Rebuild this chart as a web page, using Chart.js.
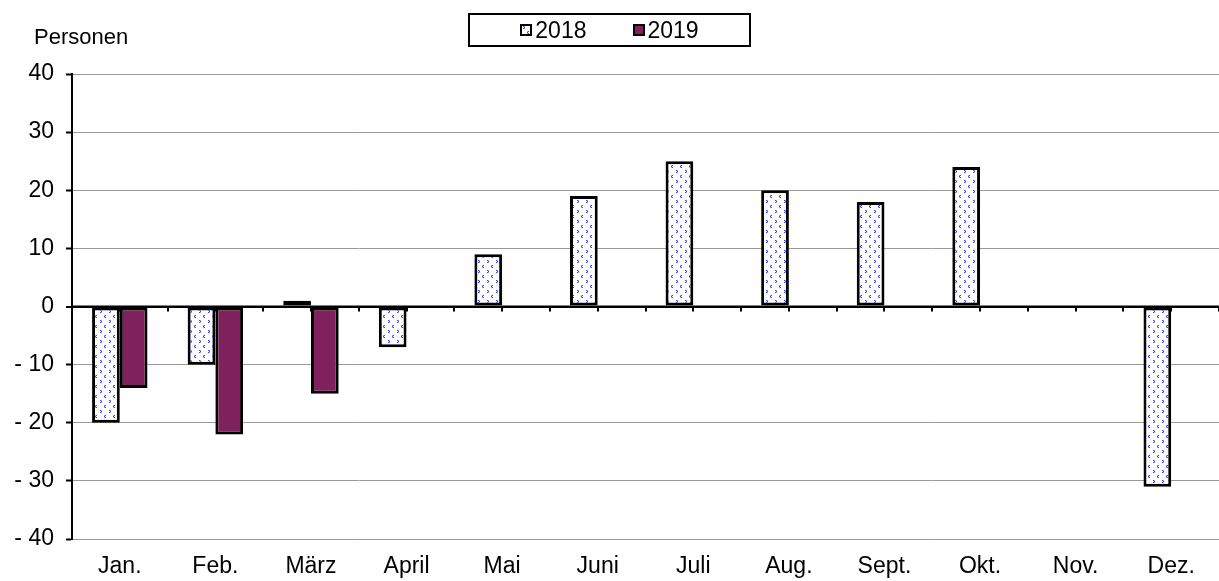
<!DOCTYPE html>
<html lang="de">
<head>
<meta charset="utf-8">
<title>Personen 2018 / 2019</title>
<script src="https://cdn.jsdelivr.net/npm/chart.js@4.4.1/dist/chart.umd.min.js"></script>
<style>
  body { margin: 0; background: #fff; }
  #wrap { position: relative; width: 1219px; height: 581px; font-family: "Liberation Sans", Arial, sans-serif; }
  #unit { position: absolute; left: 34px; top: 24px; font-size: 22px; color: #000; }
  #legend {
    position: absolute; left: 468px; top: 13px; width: 279px; height: 30px;
    border: 2px solid #000; display: flex; align-items: center; justify-content: center;
    font-size: 23px; color: #000;
  }
  .item { display: flex; align-items: center; }
  .item + .item { margin-left: 46px; }
  .swatch { width: 8px; height: 8px; border: 2px solid #000; margin-right: 3px; }
</style>
</head>
<body>
<div id="wrap">
  <canvas id="chart" width="1219" height="581"></canvas>
  <div id="unit">Personen</div>
  <div id="legend"></div>
</div>
<script>
const months = ["Jan.", "Feb.", "März", "April", "Mai", "Juni", "Juli", "Aug.", "Sept.", "Okt.", "Nov.", "Dez."];
const seriesNames = ["2018", "2019"];
const values2018 = [-20, -10, 1, -7, 9, 19, 25, 20, 18, 24, null, -31];
const values2019 = [-14, -22, -15, null, null, null, null, null, null, null, null, null];
const yTicks = { min: -40, max: 40, step: 10 };

// Muster mit blauen Winkeln > < (wie im Original)
function makePattern() {
  const c = document.createElement("canvas");
  c.width = 9;
  c.height = 10;
  const g = c.getContext("2d");
  g.fillStyle = "#fff";
  g.fillRect(0, 0, 9, 10);
  g.fillStyle = "#3345ff";
  g.fillRect(1, 0, 1, 1); g.fillRect(2, 1, 1, 1); g.fillRect(1, 2, 1, 1); // >
  g.fillRect(6, 5, 1, 1); g.fillRect(5, 6, 1, 1); g.fillRect(6, 7, 1, 1); // <
  g.fillStyle = "#9aa4ff";
  g.fillRect(2, 0, 1, 1); g.fillRect(2, 2, 1, 1);
  g.fillRect(5, 5, 1, 1); g.fillRect(5, 7, 1, 1);
  return c;
}

const patternCanvas = makePattern();
const ctx = document.getElementById("chart").getContext("2d");
const pattern = ctx.createPattern(patternCanvas, "repeat");
const color2019 = "#7f215d";

// Legende als HTML mit Rahmen
const legend = document.getElementById("legend");
seriesNames.forEach(function (name, i) {
  const item = document.createElement("div");
  item.className = "item";
  const sw = document.createElement("div");
  sw.className = "swatch";
  if (i === 0) {
    sw.style.backgroundImage = "url(" + patternCanvas.toDataURL() + ")";
  } else {
    sw.style.background = color2019;
  }
  const txt = document.createElement("span");
  txt.textContent = name;
  item.appendChild(sw);
  item.appendChild(txt);
  legend.appendChild(item);
});

// Nulllinie mit kleinen Strichen nach unten
const zeroTicks = {
  id: "zeroTicks",
  afterDatasetsDraw(chart) {
    const x = chart.scales.x;
    const y = chart.scales.y;
    const y0 = y.getPixelForValue(0);
    const c = chart.ctx;
    c.save();
    c.strokeStyle = "#000";
    c.lineWidth = 2;
    c.beginPath();
    c.moveTo(chart.chartArea.left, y0);
    c.lineTo(chart.chartArea.right, y0);
    for (let i = 0; i <= months.length * 2; i++) {
      const px = Math.round(x.getPixelForValue(i / 2 - 0.5));
      c.moveTo(px, y0);
      c.lineTo(px, y0 + 5);
    }
    c.stroke();
    c.restore();
  },
};

const font = { family: "'Liberation Sans', Arial, sans-serif", size: 23 };

new Chart(ctx, {
  type: "bar",
  data: {
    labels: months,
    datasets: [
      {
        label: seriesNames[0],
        data: values2018,
        backgroundColor: pattern,
        borderColor: "#000",
        borderWidth: 3,
        borderSkipped: false,
      },
      {
        label: seriesNames[1],
        data: values2019,
        backgroundColor: color2019,
        borderColor: "#000",
        borderWidth: 3,
        borderSkipped: false,
      },
    ],
  },
  options: {
    responsive: false,
    animation: false,
    layout: { padding: { top: 74, left: 0, right: 0, bottom: 0 } },
    datasets: { bar: { categoryPercentage: 0.58, barPercentage: 1 } },
    plugins: {
      legend: { display: false },
      tooltip: { enabled: false },
    },
    scales: {
      x: {
        grid: { display: false },
        border: { display: false },
        ticks: { color: "#000", font: font, padding: 6, maxRotation: 0 },
        afterFit(scale) { scale.height = 42; },
      },
      y: {
        min: yTicks.min,
        max: yTicks.max,
        ticks: {
          stepSize: yTicks.step,
          color: "#000",
          font: font,
          padding: 12,
          callback: function (v) { return v < 0 ? "- " + Math.abs(v) : String(v); },
        },
        grid: {
          color: function (c) { return c.tick && c.tick.value === 0 ? "#000" : "#9a9a9a"; },
          lineWidth: function (c) { return c.tick && c.tick.value === 0 ? 2 : 1; },
          tickColor: "#000",
          tickLength: 6,
          tickWidth: 2,
        },
        border: { color: "#000", width: 2 },
        afterFit(scale) { scale.width = 72; },
      },
    },
  },
  plugins: [zeroTicks],
});
</script>
</body>
</html>
